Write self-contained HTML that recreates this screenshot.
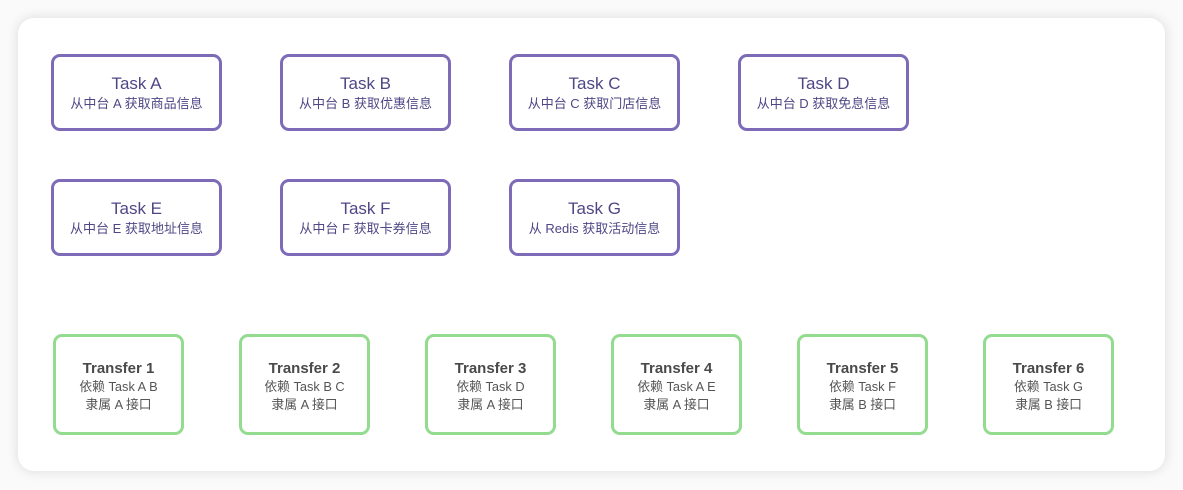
<!DOCTYPE html>
<html><head><meta charset="utf-8"><style>
html,body{margin:0;padding:0;width:1183px;height:490px;background:#fafafa;overflow:hidden;}
.card{position:absolute;left:18px;top:18px;width:1147px;height:453px;background:#fff;border-radius:16px;box-shadow:0 0 12px rgba(0,0,0,0.13);}
.b{position:absolute;box-sizing:border-box;border-radius:9px;text-align:center;font-family:"Liberation Sans","Noto Sans CJK SC",sans-serif;}
.t{border:3px solid #7e6bb8;width:171px;height:77px;color:#4f4785;}
.t .h{font-size:17px;margin-top:17px;line-height:20px;}
.t .s{font-size:13px;margin-top:1px;line-height:17px;}
.g{border:3px solid #93db8e;width:131px;height:101px;color:#444;top:334px;}
.g .h{font-size:15px;font-weight:bold;margin-top:22px;line-height:19px;color:#4a4a4a;}
.g .s{font-size:12.8px;line-height:18px;color:#555;}
</style></head><body>
<div class="card"></div>
<div class="b t" style="left:51px;top:54px"><div class="h">Task A</div><div class="s">从中台 A 获取商品信息</div></div>
<div class="b t" style="left:280px;top:54px"><div class="h">Task B</div><div class="s">从中台 B 获取优惠信息</div></div>
<div class="b t" style="left:509px;top:54px"><div class="h">Task C</div><div class="s">从中台 C 获取门店信息</div></div>
<div class="b t" style="left:738px;top:54px"><div class="h">Task D</div><div class="s">从中台 D 获取免息信息</div></div>
<div class="b t" style="left:51px;top:179px"><div class="h">Task E</div><div class="s">从中台 E 获取地址信息</div></div>
<div class="b t" style="left:280px;top:179px"><div class="h">Task F</div><div class="s">从中台 F 获取卡券信息</div></div>
<div class="b t" style="left:509px;top:179px"><div class="h">Task G</div><div class="s">从 Redis 获取活动信息</div></div>
<div class="b g" style="left:53px"><div class="h">Transfer 1</div><div class="s">依赖 Task A B</div><div class="s">隶属 A 接口</div></div>
<div class="b g" style="left:239px"><div class="h">Transfer 2</div><div class="s">依赖 Task B C</div><div class="s">隶属 A 接口</div></div>
<div class="b g" style="left:425px"><div class="h">Transfer 3</div><div class="s">依赖 Task D</div><div class="s">隶属 A 接口</div></div>
<div class="b g" style="left:611px"><div class="h">Transfer 4</div><div class="s">依赖 Task A E</div><div class="s">隶属 A 接口</div></div>
<div class="b g" style="left:797px"><div class="h">Transfer 5</div><div class="s">依赖 Task F</div><div class="s">隶属 B 接口</div></div>
<div class="b g" style="left:983px"><div class="h">Transfer 6</div><div class="s">依赖 Task G</div><div class="s">隶属 B 接口</div></div>
</body></html>
